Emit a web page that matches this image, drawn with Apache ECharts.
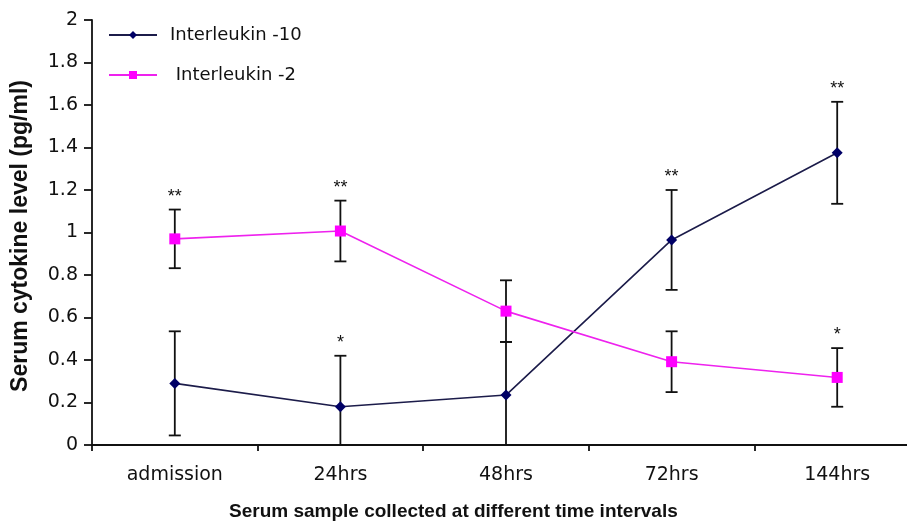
<!DOCTYPE html>
<html>
<head>
<meta charset="utf-8">
<script src="https://cdn.jsdelivr.net/npm/echarts@6/dist/echarts.min.js"></script>
<style>html,body{margin:0;padding:0;background:#fff;overflow:hidden;}#c{width:907px;height:525px;}</style>
</head>
<body>
<div id="c"></div>
<script>
const categories = ['admission', '24hrs', '48hrs', '72hrs', '144hrs'];
const il10 = [0.29, 0.18, 0.235, 0.965, 1.375];
const il10Err = [0.245, 0.24, 0.25, 0.235, 0.24];
const il10Sig = ['', '*', '', '**', '**'];
const il2 = [0.97, 1.007, 0.63, 0.392, 0.318];
const il2Err = [0.138, 0.143, 0.145, 0.143, 0.138];
const il2Sig = ['**', '**', '', '', '*'];
const yMin = 0, yMax = 2, yStep = 0.2;

const FONT = '"DejaVu Sans", sans-serif';
const BFONT = '"Liberation Sans", Arial, sans-serif';

function errSeries(name, vals, errs, sigs) {
  return {
    type: 'custom',
    name: name + ' err',
    z: 1,
    clip: false,
    data: vals.map((v, i) => [i, v, errs[i]]),
    renderItem: function (params, api) {
      const i = api.value(0), v = api.value(1), e = api.value(2);
      const hiV = v + e, loV = Math.max(yMin, v - e);
      const hi = api.coord([i, hiV]);
      const lo = api.coord([i, loV]);
      const hw = 6;
      const st = { stroke: '#111', lineWidth: 1.8 };
      const ch = [
        { type: 'line', shape: { x1: hi[0], y1: hi[1], x2: lo[0], y2: lo[1] }, style: st },
        { type: 'line', shape: { x1: hi[0] - hw, y1: hi[1], x2: hi[0] + hw, y2: hi[1] }, style: st }
      ];
      if (v - e > yMin) {
        ch.push({ type: 'line', shape: { x1: lo[0] - hw, y1: lo[1], x2: lo[0] + hw, y2: lo[1] }, style: st });
      }
      const s = sigs[params.dataIndex];
      if (s) {
        ch.push({ type: 'text', style: { text: s, x: hi[0], y: hi[1] - 13, align: 'center', verticalAlign: 'middle', fill: '#111', font: '18px ' + BFONT } });
      }
      return { type: 'group', children: ch };
    }
  };
}

const chart = echarts.init(document.getElementById('c'), null, { renderer: 'canvas' });
chart.setOption({
  animation: false,
  backgroundColor: '#fff',
  grid: { left: 92, width: 828, top: 20, height: 425, outerBoundsMode: 'none', containLabel: false },
  legend: {
    orient: 'vertical',
    left: 103,
    top: 21,
    itemGap: 22,
    itemWidth: 48,
    itemHeight: 10,
    textStyle: { fontFamily: FONT, fontSize: 18, color: '#111', padding: [0, 0, 0, 8] },
    data: ['Interleukin -10', ' Interleukin -2']
  },
  xAxis: {
    type: 'category',
    data: categories,
    boundaryGap: true,
    axisLine: { lineStyle: { color: '#111', width: 1.8 } },
    axisTick: { show: true, length: 6, inside: false, lineStyle: { color: '#111', width: 1.8 } },
    axisLabel: { color: '#111', fontSize: 19, margin: 21, fontFamily: FONT },
    splitLine: { show: false }
  },
  yAxis: {
    type: 'value',
    min: yMin, max: yMax, interval: yStep,
    axisLine: { show: true, lineStyle: { color: '#111', width: 1.8 } },
    axisTick: { show: true, length: 8, lineStyle: { color: '#111', width: 1.8 } },
    axisLabel: { color: '#111', fontSize: 19, margin: 14, fontFamily: FONT },
    splitLine: { show: false }
  },
  graphic: [
    { type: 'text', left: 229, top: 502, style: { text: 'Serum sample collected at different time intervals', fill: '#111', font: 'bold 19px ' + BFONT } },
    { type: 'text', x: 21, y: 236, rotation: Math.PI / 2, style: { text: 'Serum cytokine level (pg/ml)', fill: '#111', align: 'center', verticalAlign: 'middle', font: 'bold 23px ' + BFONT } }
  ],
  series: [
    errSeries('il10', il10, il10Err, il10Sig),
    errSeries('il2', il2, il2Err, il2Sig),
    {
      type: 'line', name: 'Interleukin -10', data: il10, z: 3,
      symbol: 'diamond', symbolSize: 11,
      lineStyle: { color: '#1c1c4a', width: 1.6 },
      itemStyle: { color: '#000066' }
    },
    {
      type: 'line', name: ' Interleukin -2', data: il2, z: 3,
      symbol: 'rect', symbolSize: 11,
      lineStyle: { color: '#ee22ee', width: 1.6 },
      itemStyle: { color: '#ff00ff' }
    }
  ]
});
</script>
</body>
</html>
